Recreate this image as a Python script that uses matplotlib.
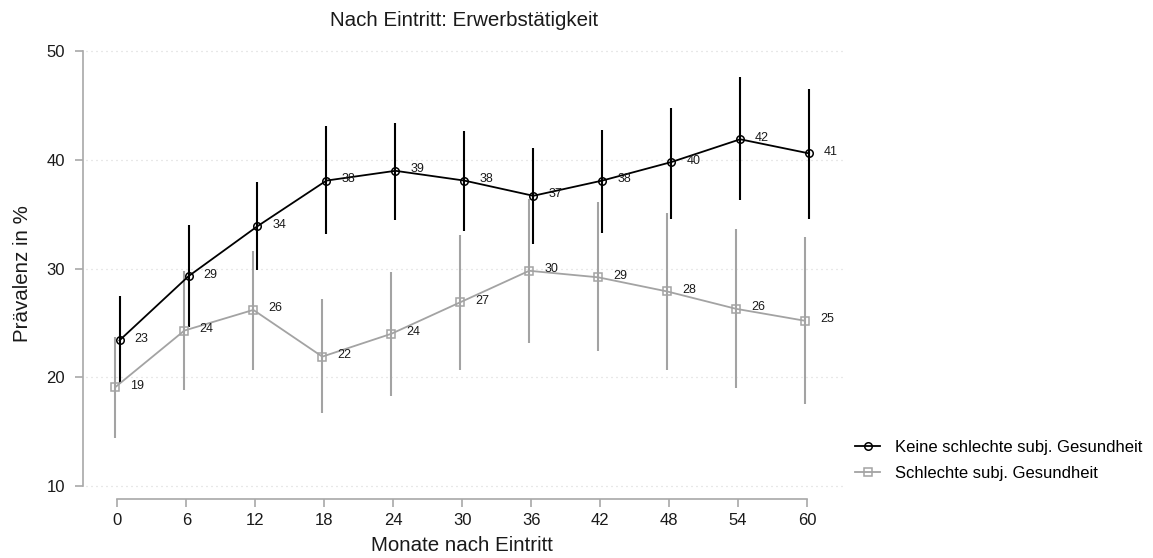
import matplotlib

matplotlib.use('Agg')

import matplotlib.pyplot as plt

plt.rcParams['font.family'] = ['Liberation Sans', 'DejaVu Sans']

# Monate nach Eintritt
monate = [0, 6, 12, 18, 24, 30, 36, 42, 48, 54, 60]

# Keine schlechte subj. Gesundheit
keine_wert = [23.4, 29.3, 33.9, 38.1, 39.0, 38.1, 36.7, 38.1, 39.8, 41.9, 40.6]
keine_unten = [19.5, 24.6, 29.9, 33.2, 34.5, 33.5, 32.3, 33.3, 34.6, 36.3, 34.6]
keine_oben = [27.5, 34.0, 38.0, 43.1, 43.4, 42.7, 41.1, 42.8, 44.8, 47.6, 46.5]

# Schlechte subj. Gesundheit
schlecht_wert = [19.1, 24.3, 26.2, 21.9, 24.0, 26.9, 29.8, 29.2, 27.9, 26.3, 25.2]
schlecht_unten = [14.4, 18.8, 20.7, 16.7, 18.3, 20.7, 23.2, 22.4, 20.7, 19.0, 17.5]
schlecht_oben = [23.7, 29.8, 31.6, 27.2, 29.7, 33.1, 36.4, 36.1, 35.1, 33.6, 32.9]

y_ticks = [10, 20, 30, 40, 50]

GRAU = '#a3a3a3'
ACHSE = '#a8a8a8'
TEXT = '#1a1a1a'

fig = plt.figure(figsize=(11.53, 5.58), dpi=100)
ax = fig.add_axes([83 / 1153, 59 / 558, 762 / 1153, 451 / 558])


def serie(werte, unten, oben, dx, farbe, marker, ms, label):
    xs = [m + dx for m in monate]
    ax.vlines(xs, unten, oben, color=farbe, lw=1.5, zorder=3)
    h, = ax.plot(xs, werte, color=farbe, lw=1.3, marker=marker, ms=ms,
                 mfc='none', mec=farbe, mew=1.1, zorder=4, label=label)
    for x, v in zip(xs, werte):
        ax.annotate(f'{round(v)}', (x, v), xytext=(15, 1.5),
                    textcoords='offset pixels', ha='left', va='center',
                    fontsize=9, color=TEXT, zorder=5)
    return h


h2 = serie(schlecht_wert, schlecht_unten, schlecht_oben, -0.18, GRAU, 's', 5.4,
           'Schlechte subj. Gesundheit')
h1 = serie(keine_wert, keine_unten, keine_oben, 0.18, 'black', 'o', 5.4,
           'Keine schlechte subj. Gesundheit')

ax.set_xlim(-3.0, 63.3)
ax.set_ylim(8.8, 50.3)

for s in ['top', 'right']:
    ax.spines[s].set_visible(False)
ax.spines['left'].set_bounds(10, 50)
ax.spines['bottom'].set_bounds(0, 60)
for s in ['left', 'bottom']:
    ax.spines[s].set_color(ACHSE)
    ax.spines[s].set_linewidth(1.2)

ax.set_xticks(monate)
ax.set_yticks(y_ticks)
ax.tick_params(axis='both', colors=ACHSE, labelcolor=TEXT, labelsize=12,
               length=6, width=1.2)
ax.tick_params(axis='y', pad=7)
ax.tick_params(axis='x', pad=4)

for y in y_ticks:
    ax.axhline(y, xmin=0.004, color='#d2d2d2', lw=0.9, ls=(0, (0.8, 3.2)), zorder=1)

ax.set_xlabel('Monate nach Eintritt', fontsize=14.8, color=TEXT)
ax.xaxis.set_label_coords(0.497, -0.083)
ax.set_ylabel('Prävalenz in %', fontsize=14.8, color=TEXT)
ax.yaxis.set_label_coords(-0.067, 0.5)
ax.set_title('Nach Eintritt: Erwerbstätigkeit', fontsize=14.8, color=TEXT, pad=16)

fig.legend([h1, h2], ['Keine schlechte subj. Gesundheit', 'Schlechte subj. Gesundheit'],
           loc='upper left', bbox_to_anchor=(855 / 1153, 1 - 440 / 558),
           frameon=False, fontsize=12, handlelength=1.5, handletextpad=0.9,
           labelspacing=0.65, borderpad=0, borderaxespad=0, markerscale=1.0)

fig.savefig('out.png', dpi=100)
